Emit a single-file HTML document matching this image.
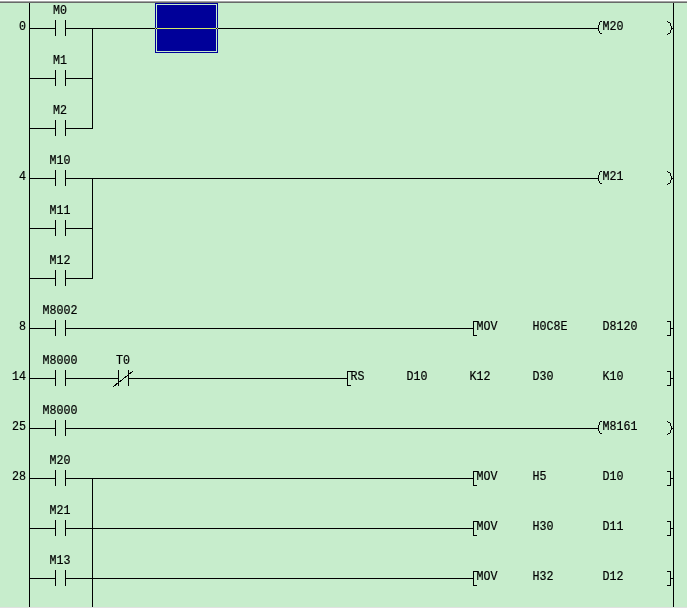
<!DOCTYPE html>
<html><head><meta charset="utf-8"><title>Ladder</title>
<style>
html,body{margin:0;padding:0;background:#fff;}
svg{display:block;will-change:transform}
text{font-family:"Liberation Mono",monospace;font-size:13.66px;fill:#000;stroke:#000;stroke-width:0.22px;}
</style></head><body>
<svg width="687" height="610" viewBox="0 0 687 610">
<rect x="0" y="0" width="687" height="610" fill="#fff"/>
<rect x="0" y="1" width="687" height="1" fill="#a3a3a3" shape-rendering="crispEdges"/>
<rect x="0" y="2" width="687" height="1" fill="#696969" shape-rendering="crispEdges"/>
<rect x="0" y="3" width="687" height="604" fill="#c7edcc" shape-rendering="crispEdges"/>
<rect x="0" y="607" width="687" height="1" fill="#e1e1e1" shape-rendering="crispEdges"/>
<g shape-rendering="crispEdges">
<rect x="29" y="3" width="1" height="604" fill="#000"/>
<rect x="673" y="3" width="1" height="604" fill="#000"/>
<rect x="29" y="28" width="27" height="1" fill="#000"/>
<rect x="65" y="28" width="533" height="1" fill="#000"/>
<rect x="55" y="20" width="1" height="16" fill="#000"/>
<rect x="65" y="20" width="1" height="16" fill="#000"/>
<rect x="29" y="78" width="27" height="1" fill="#000"/>
<rect x="65" y="78" width="28" height="1" fill="#000"/>
<rect x="55" y="70" width="1" height="16" fill="#000"/>
<rect x="65" y="70" width="1" height="16" fill="#000"/>
<rect x="29" y="128" width="27" height="1" fill="#000"/>
<rect x="65" y="128" width="28" height="1" fill="#000"/>
<rect x="55" y="120" width="1" height="16" fill="#000"/>
<rect x="65" y="120" width="1" height="16" fill="#000"/>
<rect x="92" y="28" width="1" height="101" fill="#000"/>
<rect x="600" y="21" width="1" height="1" fill="#000"/>
<rect x="601" y="21" width="1" height="1" fill="#000"/>
<rect x="599" y="22" width="1" height="3" fill="#000"/>
<rect x="598" y="25" width="1" height="6" fill="#000"/>
<rect x="599" y="31" width="1" height="2" fill="#000"/>
<rect x="600" y="33" width="1" height="1" fill="#000"/>
<rect x="601" y="33" width="1" height="1" fill="#000"/>
<rect x="667" y="21" width="1" height="1" fill="#000"/>
<rect x="668" y="22" width="1" height="1" fill="#000"/>
<rect x="669" y="22" width="1" height="1" fill="#000"/>
<rect x="670" y="23" width="1" height="3" fill="#000"/>
<rect x="671" y="26" width="1" height="4" fill="#000"/>
<rect x="670" y="30" width="1" height="3" fill="#000"/>
<rect x="668" y="33" width="1" height="1" fill="#000"/>
<rect x="669" y="33" width="1" height="1" fill="#000"/>
<rect x="667" y="34" width="1" height="1" fill="#000"/>
<rect x="672" y="28" width="1" height="1" fill="#000"/>
<rect x="29" y="178" width="27" height="1" fill="#000"/>
<rect x="65" y="178" width="533" height="1" fill="#000"/>
<rect x="55" y="170" width="1" height="16" fill="#000"/>
<rect x="65" y="170" width="1" height="16" fill="#000"/>
<rect x="29" y="228" width="27" height="1" fill="#000"/>
<rect x="65" y="228" width="28" height="1" fill="#000"/>
<rect x="55" y="220" width="1" height="16" fill="#000"/>
<rect x="65" y="220" width="1" height="16" fill="#000"/>
<rect x="29" y="278" width="27" height="1" fill="#000"/>
<rect x="65" y="278" width="28" height="1" fill="#000"/>
<rect x="55" y="270" width="1" height="16" fill="#000"/>
<rect x="65" y="270" width="1" height="16" fill="#000"/>
<rect x="92" y="178" width="1" height="101" fill="#000"/>
<rect x="600" y="171" width="1" height="1" fill="#000"/>
<rect x="601" y="171" width="1" height="1" fill="#000"/>
<rect x="599" y="172" width="1" height="3" fill="#000"/>
<rect x="598" y="175" width="1" height="6" fill="#000"/>
<rect x="599" y="181" width="1" height="2" fill="#000"/>
<rect x="600" y="183" width="1" height="1" fill="#000"/>
<rect x="601" y="183" width="1" height="1" fill="#000"/>
<rect x="667" y="171" width="1" height="1" fill="#000"/>
<rect x="668" y="172" width="1" height="1" fill="#000"/>
<rect x="669" y="172" width="1" height="1" fill="#000"/>
<rect x="670" y="173" width="1" height="3" fill="#000"/>
<rect x="671" y="176" width="1" height="4" fill="#000"/>
<rect x="670" y="180" width="1" height="3" fill="#000"/>
<rect x="668" y="183" width="1" height="1" fill="#000"/>
<rect x="669" y="183" width="1" height="1" fill="#000"/>
<rect x="667" y="184" width="1" height="1" fill="#000"/>
<rect x="672" y="178" width="1" height="1" fill="#000"/>
<rect x="29" y="328" width="27" height="1" fill="#000"/>
<rect x="65" y="328" width="409" height="1" fill="#000"/>
<rect x="55" y="320" width="1" height="16" fill="#000"/>
<rect x="65" y="320" width="1" height="16" fill="#000"/>
<rect x="473" y="321" width="1" height="15" fill="#000"/>
<rect x="473" y="321" width="5" height="1" fill="#000"/>
<rect x="473" y="335" width="4" height="1" fill="#000"/>
<rect x="670" y="321" width="1" height="15" fill="#000"/>
<rect x="667" y="321" width="4" height="1" fill="#000"/>
<rect x="667" y="335" width="4" height="1" fill="#000"/>
<rect x="671" y="328" width="2" height="1" fill="#000"/>
<rect x="29" y="378" width="27" height="1" fill="#000"/>
<rect x="65" y="378" width="54" height="1" fill="#000"/>
<rect x="128" y="378" width="220" height="1" fill="#000"/>
<rect x="55" y="370" width="1" height="16" fill="#000"/>
<rect x="65" y="370" width="1" height="16" fill="#000"/>
<rect x="118" y="370" width="1" height="16" fill="#000"/>
<rect x="128" y="370" width="1" height="16" fill="#000"/>
<rect x="347" y="371" width="1" height="15" fill="#000"/>
<rect x="347" y="371" width="5" height="1" fill="#000"/>
<rect x="347" y="385" width="4" height="1" fill="#000"/>
<rect x="670" y="371" width="1" height="15" fill="#000"/>
<rect x="667" y="371" width="4" height="1" fill="#000"/>
<rect x="667" y="385" width="4" height="1" fill="#000"/>
<rect x="671" y="378" width="2" height="1" fill="#000"/>
<rect x="29" y="428" width="27" height="1" fill="#000"/>
<rect x="65" y="428" width="533" height="1" fill="#000"/>
<rect x="55" y="420" width="1" height="16" fill="#000"/>
<rect x="65" y="420" width="1" height="16" fill="#000"/>
<rect x="600" y="421" width="1" height="1" fill="#000"/>
<rect x="601" y="421" width="1" height="1" fill="#000"/>
<rect x="599" y="422" width="1" height="3" fill="#000"/>
<rect x="598" y="425" width="1" height="6" fill="#000"/>
<rect x="599" y="431" width="1" height="2" fill="#000"/>
<rect x="600" y="433" width="1" height="1" fill="#000"/>
<rect x="601" y="433" width="1" height="1" fill="#000"/>
<rect x="667" y="421" width="1" height="1" fill="#000"/>
<rect x="668" y="422" width="1" height="1" fill="#000"/>
<rect x="669" y="422" width="1" height="1" fill="#000"/>
<rect x="670" y="423" width="1" height="3" fill="#000"/>
<rect x="671" y="426" width="1" height="4" fill="#000"/>
<rect x="670" y="430" width="1" height="3" fill="#000"/>
<rect x="668" y="433" width="1" height="1" fill="#000"/>
<rect x="669" y="433" width="1" height="1" fill="#000"/>
<rect x="667" y="434" width="1" height="1" fill="#000"/>
<rect x="672" y="428" width="1" height="1" fill="#000"/>
<rect x="29" y="478" width="27" height="1" fill="#000"/>
<rect x="65" y="478" width="409" height="1" fill="#000"/>
<rect x="55" y="470" width="1" height="16" fill="#000"/>
<rect x="65" y="470" width="1" height="16" fill="#000"/>
<rect x="473" y="471" width="1" height="15" fill="#000"/>
<rect x="473" y="471" width="5" height="1" fill="#000"/>
<rect x="473" y="485" width="4" height="1" fill="#000"/>
<rect x="670" y="471" width="1" height="15" fill="#000"/>
<rect x="667" y="471" width="4" height="1" fill="#000"/>
<rect x="667" y="485" width="4" height="1" fill="#000"/>
<rect x="671" y="478" width="2" height="1" fill="#000"/>
<rect x="29" y="528" width="27" height="1" fill="#000"/>
<rect x="65" y="528" width="409" height="1" fill="#000"/>
<rect x="55" y="520" width="1" height="16" fill="#000"/>
<rect x="65" y="520" width="1" height="16" fill="#000"/>
<rect x="473" y="521" width="1" height="15" fill="#000"/>
<rect x="473" y="521" width="5" height="1" fill="#000"/>
<rect x="473" y="535" width="4" height="1" fill="#000"/>
<rect x="670" y="521" width="1" height="15" fill="#000"/>
<rect x="667" y="521" width="4" height="1" fill="#000"/>
<rect x="667" y="535" width="4" height="1" fill="#000"/>
<rect x="671" y="528" width="2" height="1" fill="#000"/>
<rect x="29" y="578" width="27" height="1" fill="#000"/>
<rect x="65" y="578" width="409" height="1" fill="#000"/>
<rect x="55" y="570" width="1" height="16" fill="#000"/>
<rect x="65" y="570" width="1" height="16" fill="#000"/>
<rect x="473" y="571" width="1" height="15" fill="#000"/>
<rect x="473" y="571" width="5" height="1" fill="#000"/>
<rect x="473" y="585" width="4" height="1" fill="#000"/>
<rect x="670" y="571" width="1" height="15" fill="#000"/>
<rect x="667" y="571" width="4" height="1" fill="#000"/>
<rect x="667" y="585" width="4" height="1" fill="#000"/>
<rect x="671" y="578" width="2" height="1" fill="#000"/>
<rect x="92" y="478" width="1" height="129" fill="#000"/>
</g>
<line x1="113" y1="386.9" x2="133" y2="371.1" stroke="#000" stroke-width="1" shape-rendering="crispEdges"/>
<g shape-rendering="crispEdges">
<rect x="155" y="3" width="63" height="50" fill="#000099"/>
<rect x="156.5" y="4.5" width="60" height="47" fill="none" stroke="#c7edcc" stroke-width="1"/>
<rect x="157" y="28" width="59" height="1" fill="#d2ea66"/>
<rect x="155" y="28" width="1" height="1" fill="#c8d860"/>
<rect x="217" y="28" width="1" height="1" fill="#c8d860"/>
<rect x="156" y="28" width="1" height="1" fill="#101010"/>
<rect x="216" y="28" width="1" height="1" fill="#101010"/>
</g>
<g>
<text transform="translate(26 30) scale(0.854 1)" text-anchor="end">0</text>
<text transform="translate(60 14) scale(0.854 1)" text-anchor="middle">M0</text>
<text transform="translate(60 64) scale(0.854 1)" text-anchor="middle">M1</text>
<text transform="translate(60 114) scale(0.854 1)" text-anchor="middle">M2</text>
<text transform="translate(602.5 30) scale(0.854 1)" text-anchor="start">M20</text>
<text transform="translate(26 180) scale(0.854 1)" text-anchor="end">4</text>
<text transform="translate(60 164) scale(0.854 1)" text-anchor="middle">M10</text>
<text transform="translate(60 214) scale(0.854 1)" text-anchor="middle">M11</text>
<text transform="translate(60 264) scale(0.854 1)" text-anchor="middle">M12</text>
<text transform="translate(602.5 180) scale(0.854 1)" text-anchor="start">M21</text>
<text transform="translate(26 330) scale(0.854 1)" text-anchor="end">8</text>
<text transform="translate(60 314) scale(0.854 1)" text-anchor="middle">M8002</text>
<text transform="translate(476.5 330) scale(0.854 1)" text-anchor="start">MOV</text>
<text transform="translate(532.5 330) scale(0.854 1)" text-anchor="start">H0C8E</text>
<text transform="translate(602.5 330) scale(0.854 1)" text-anchor="start">D8120</text>
<text transform="translate(26 380) scale(0.854 1)" text-anchor="end">14</text>
<text transform="translate(60 364) scale(0.854 1)" text-anchor="middle">M8000</text>
<text transform="translate(123 364) scale(0.854 1)" text-anchor="middle">T0</text>
<text transform="translate(350.5 380) scale(0.854 1)" text-anchor="start">RS</text>
<text transform="translate(406.5 380) scale(0.854 1)" text-anchor="start">D10</text>
<text transform="translate(469.5 380) scale(0.854 1)" text-anchor="start">K12</text>
<text transform="translate(532.5 380) scale(0.854 1)" text-anchor="start">D30</text>
<text transform="translate(602.5 380) scale(0.854 1)" text-anchor="start">K10</text>
<text transform="translate(26 430) scale(0.854 1)" text-anchor="end">25</text>
<text transform="translate(60 414) scale(0.854 1)" text-anchor="middle">M8000</text>
<text transform="translate(602.5 430) scale(0.854 1)" text-anchor="start">M8161</text>
<text transform="translate(26 480) scale(0.854 1)" text-anchor="end">28</text>
<text transform="translate(60 464) scale(0.854 1)" text-anchor="middle">M20</text>
<text transform="translate(476.5 480) scale(0.854 1)" text-anchor="start">MOV</text>
<text transform="translate(532.5 480) scale(0.854 1)" text-anchor="start">H5</text>
<text transform="translate(602.5 480) scale(0.854 1)" text-anchor="start">D10</text>
<text transform="translate(60 514) scale(0.854 1)" text-anchor="middle">M21</text>
<text transform="translate(476.5 530) scale(0.854 1)" text-anchor="start">MOV</text>
<text transform="translate(532.5 530) scale(0.854 1)" text-anchor="start">H30</text>
<text transform="translate(602.5 530) scale(0.854 1)" text-anchor="start">D11</text>
<text transform="translate(60 564) scale(0.854 1)" text-anchor="middle">M13</text>
<text transform="translate(476.5 580) scale(0.854 1)" text-anchor="start">MOV</text>
<text transform="translate(532.5 580) scale(0.854 1)" text-anchor="start">H32</text>
<text transform="translate(602.5 580) scale(0.854 1)" text-anchor="start">D12</text>
</g>
</svg>
</body></html>
